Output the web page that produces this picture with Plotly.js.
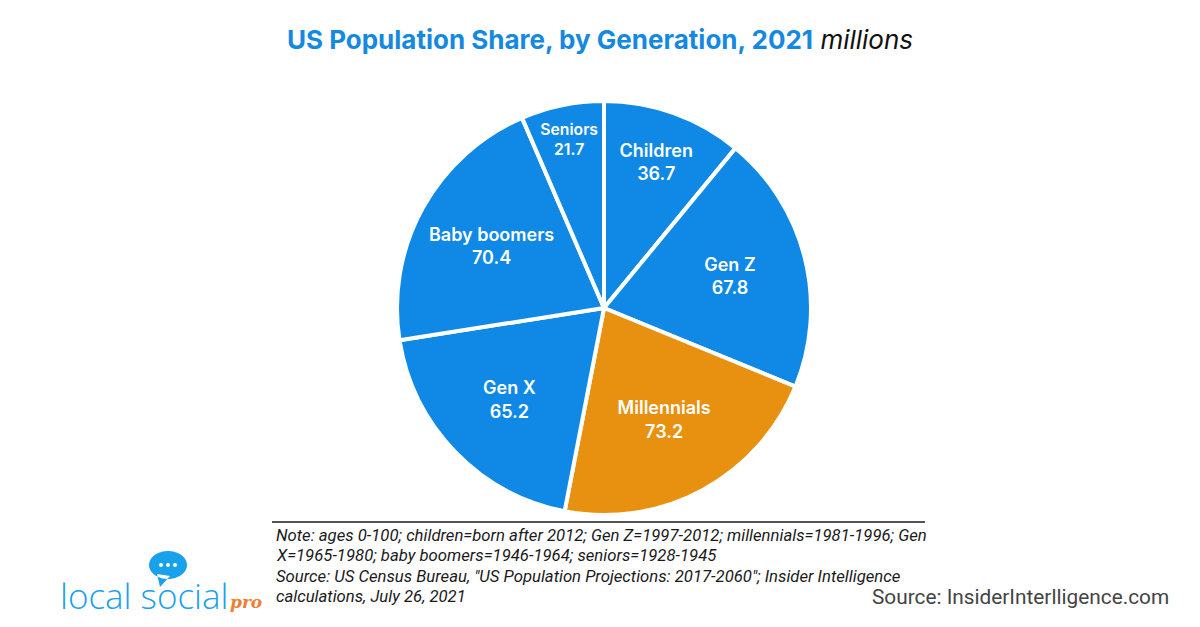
<!DOCTYPE html>
<html>
<head>
<meta charset="utf-8">
<script src="https://cdn.plot.ly/plotly-3.0.1.min.js"></script>
<style>html,body{margin:0;padding:0;background:#fff;}#chart{width:1200px;height:627px;}</style>
</head>
<body>
<div id="chart"></div>
<script>
const categories = ["Children", "Gen Z", "Millennials", "Gen X", "Baby boomers", "Seniors"];
const populationMillions = [36.7, 67.8, 73.2, 65.2, 70.4, 21.7];
const sliceColors = ["#1089E6", "#1089E6", "#E8900F", "#1089E6", "#1089E6", "#1089E6"];
const titleText = "US Population Share, by Generation, 2021";
const titleUnit = "millions";
const noteLines = [
  "Note: ages 0-100; children=born after 2012; Gen Z=1997-2012; millennials=1981-1996; Gen",
  "X=1965-1980; baby boomers=1946-1964; seniors=1928-1945",
  "Source: US Census Bureau, \"US Population Projections: 2017-2060\"; Insider Intelligence",
  "calculations, July 26, 2021"
];
const sourceText = "Source: InsiderInterlligence.com";

const W = 1200, H = 627;
const cx = 604, cy = 308, R = 207;

const trace = {
  type: "pie",
  labels: categories,
  values: populationMillions,
  sort: false,
  direction: "clockwise",
  rotation: 0,
  marker: { colors: sliceColors, line: { color: "#ffffff", width: 4 } },
  texttemplate: "%{label}<br>%{value:.1f}",
  textposition: "inside",
  insidetextorientation: "horizontal",
  textfont: { family: "Inter, Roboto, sans-serif", size: 18, color: "#ffffff", weight: 600 },
  hoverinfo: "none",
  showlegend: false,
  domain: { x: [(cx - R) / W, (cx + R) / W], y: [(H - cy - R) / H, (H - cy + R) / H] }
};

const annotations = [];
noteLines.forEach((t, i) => {
  annotations.push({
    xref: "paper", yref: "paper", x: 274 / W, y: 1 - (535 + i * 20.5) / H,
    xanchor: "left", yanchor: "middle", showarrow: false, align: "left",
    text: "<i>" + t + "</i>",
    font: { family: "Roboto, 'Liberation Sans', sans-serif", size: 16.7, color: "#1a1a1a" }
  });
});
annotations.push({
  xref: "paper", yref: "paper", x: 1171 / W, y: 1 - 597 / H,
  xanchor: "right", yanchor: "middle", showarrow: false,
  text: sourceText,
  font: { family: "Roboto, sans-serif", size: 20.8, color: "#444444" }
});
annotations.push({
  xref: "paper", yref: "paper", x: 58 / W, y: 1 - 595 / H,
  xanchor: "left", yanchor: "middle", showarrow: false,
  text: "local social",
  font: { family: "'Open Sans', Lato, sans-serif", size: 35, color: "#1AA1EC", weight: 300 }
});
annotations.push({
  xref: "paper", yref: "paper", x: 228 / W, y: 1 - 602 / H,
  xanchor: "left", yanchor: "middle", showarrow: false,
  text: "<b><i>pro</i></b>",
  font: { family: "'DejaVu Serif', serif", size: 17, color: "#F07E2E" }
});

const shapes = [
  { type: "line", xref: "paper", yref: "paper", x0: 272 / W, x1: 925 / W, y0: 1 - 522 / H, y1: 1 - 522 / H,
    line: { color: "#555555", width: 2 } },
  // logo speech bubble
  { type: "path", xref: "paper", yref: "paper", fillcolor: "#1AA1EC", line: { width: 0 },
    path: (function () {
      const pts = [];
      const bx = 168, by = 565, rx = 19, ry = 14;
      for (let a = 0; a <= 360; a += 10) {
        const r = a * Math.PI / 180;
        pts.push([bx + rx * Math.cos(r), by + ry * Math.sin(r)]);
      }
      let p = "M " + pts.map(q => (q[0] / W) + "," + (1 - q[1] / H)).join(" L ") + " Z";
      p += " M " + (157 / W) + "," + (1 - 574 / H) + " L " + (160 / W) + "," + (1 - 587 / H) + " L " + (170 / W) + "," + (1 - 576 / H) + " Z";
      return p;
    })() }
];
[161, 168, 175].forEach(x => {
  shapes.push({ type: "circle", xref: "paper", yref: "paper", fillcolor: "#ffffff", line: { width: 0 },
    x0: (x - 2) / W, x1: (x + 2) / W, y0: 1 - 567 / H, y1: 1 - 563 / H });
});

const layout = {
  width: W, height: H,
  margin: { l: 0, r: 0, t: 0, b: 0 },
  paper_bgcolor: "#ffffff",
  title: {
    text: "<b>" + titleText + "</b> <span style=\"color:#111111\"><i>" + titleUnit + "</i></span>",
    x: 600 / W, xanchor: "center", y: 1 - 40 / H, yanchor: "middle",
    font: { family: "Inter, Roboto, sans-serif", size: 26, color: "#1589E0", weight: 400 }
  },
  annotations: annotations,
  shapes: shapes
};

Plotly.newPlot("chart", [trace], layout, { staticPlot: true, displayModeBar: false });
</script>
</body>
</html>
